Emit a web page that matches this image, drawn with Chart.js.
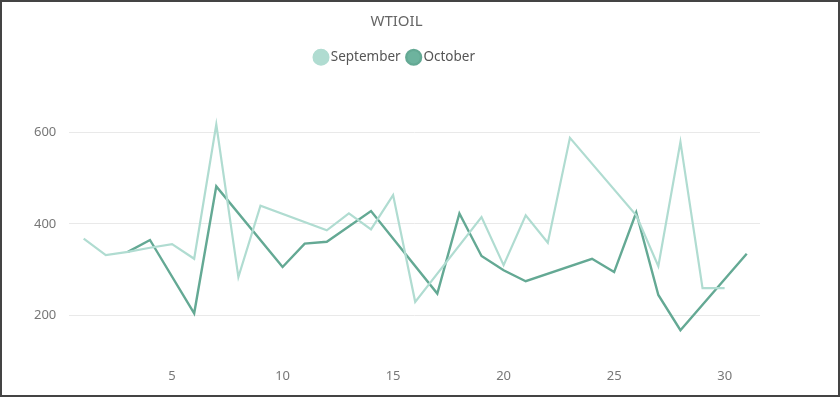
<!DOCTYPE html>
<html>
<head>
<meta charset="utf-8">
<script src="https://cdn.jsdelivr.net/npm/chart.js@4"></script>
<style>
    html, body { margin: 0; padding: 0; background: #fff; }
    #box {
        width: 840px;
        height: 397px;
        box-sizing: border-box;
        border: 2px solid #444;
        background: #fff;
    }
</style>
</head>
<body>
<div id="box"><canvas id="chart-wtioil" width="836" height="393"></canvas></div>
<script>
const judul = "WTIOIL";

const hariSeptember = [1, 2, 3, 4, 5, 6, 7, 8, 9, 12, 13, 14, 15, 16, 19, 20, 21, 22, 23, 26, 27, 28, 29, 30];
const nilaiSeptember = [368, 332, 339, 348, 356, 324, 617, 284, 440, 386, 423, 388, 463, 230, 415, 310, 419, 359, 588, 419, 308, 579, 260, 260];

const hariOktober = [3, 4, 6, 7, 10, 11, 12, 14, 17, 18, 19, 20, 21, 24, 25, 26, 27, 28, 31];
const nilaiOktober = [339, 365, 205, 482, 306, 357, 361, 428, 248, 423, 330, 299, 275, 324, 295, 425, 245, 168, 335];

const tickX = [5, 10, 15, 20, 25, 30];
const tickY = [200, 400, 600];

function gabung(hari, nilai) {
    return hari.map((h, i) => ({ x: h, y: nilai[i] }));
}

// tambah jarak di bawah legend
const jarakLegend = {
    id: "jarakLegend",
    beforeInit(chart) {
        const fitAsli = chart.legend.fit;
        chart.legend.fit = function () {
            fitAsli.bind(chart.legend)();
            this.height += 12.5;
        };
    },
};

const chartWti = document.getElementById("chart-wtioil");

new Chart(chartWti, {
    type: "line",
    data: {
        datasets: [
            {
                label: "September",
                data: gabung(hariSeptember, nilaiSeptember),
                borderColor: "#b0dcd1",
                backgroundColor: "#b0dcd1",
                borderWidth: 2.2,
                pointRadius: 0,
                tension: 0,
            },
            {
                label: "October",
                data: gabung(hariOktober, nilaiOktober),
                borderColor: "#64a994",
                backgroundColor: "#6db39e",
                borderWidth: 2.4,
                pointRadius: 0,
                tension: 0,
            },
        ],
    },
    plugins: [jarakLegend],
    options: {
        responsive: false,
        animation: false,
        layout: { padding: { left: 19, right: 66, top: 0, bottom: 4 } },
        plugins: {
            title: {
                display: true,
                text: judul,
                color: "#666",
                font: { family: "Noto Sans", size: 15, weight: "normal" },
                padding: { top: 11, bottom: 9.5 },
            },
            legend: {
                labels: {
                    usePointStyle: true,
                    pointStyle: "circle",
                    boxWidth: 6,
                    boxHeight: 10.5,
                    color: "#555",
                    padding: 10,
                    font: { family: "Noto Sans", size: 13.5 },
                },
            },
            tooltip: { enabled: false },
        },
        scales: {
            x: {
                type: "linear",
                min: 0.35,
                max: 31.6,
                afterBuildTicks: (scale) => {
                    scale.ticks = tickX.map((v) => ({ value: v }));
                },
                grid: { display: false, drawTicks: false },
                border: { display: false },
                ticks: {
                    color: "#777",
                    padding: 7,
                    maxRotation: 0,
                    font: { family: "Noto Sans", size: 13 },
                },
            },
            y: {
                min: 100,
                max: 700,
                afterBuildTicks: (scale) => {
                    scale.ticks = tickY.map((v) => ({ value: v }));
                },
                grid: { color: "#e9e9e9", lineWidth: 1, drawTicks: false },
                border: { display: false },
                ticks: {
                    color: "#777",
                    padding: 13,
                    font: { family: "Noto Sans", size: 13 },
                },
            },
            // sumbu kosong di kanan, hanya untuk ruang
            kanan: {
                position: "right",
                min: 100,
                max: 700,
                grid: { display: false, drawTicks: false },
                border: { display: false },
                ticks: { display: false },
                afterFit: (scale) => {
                    scale.width = 12;
                },
            },
        },
    },
});
</script>
</body>
</html>
